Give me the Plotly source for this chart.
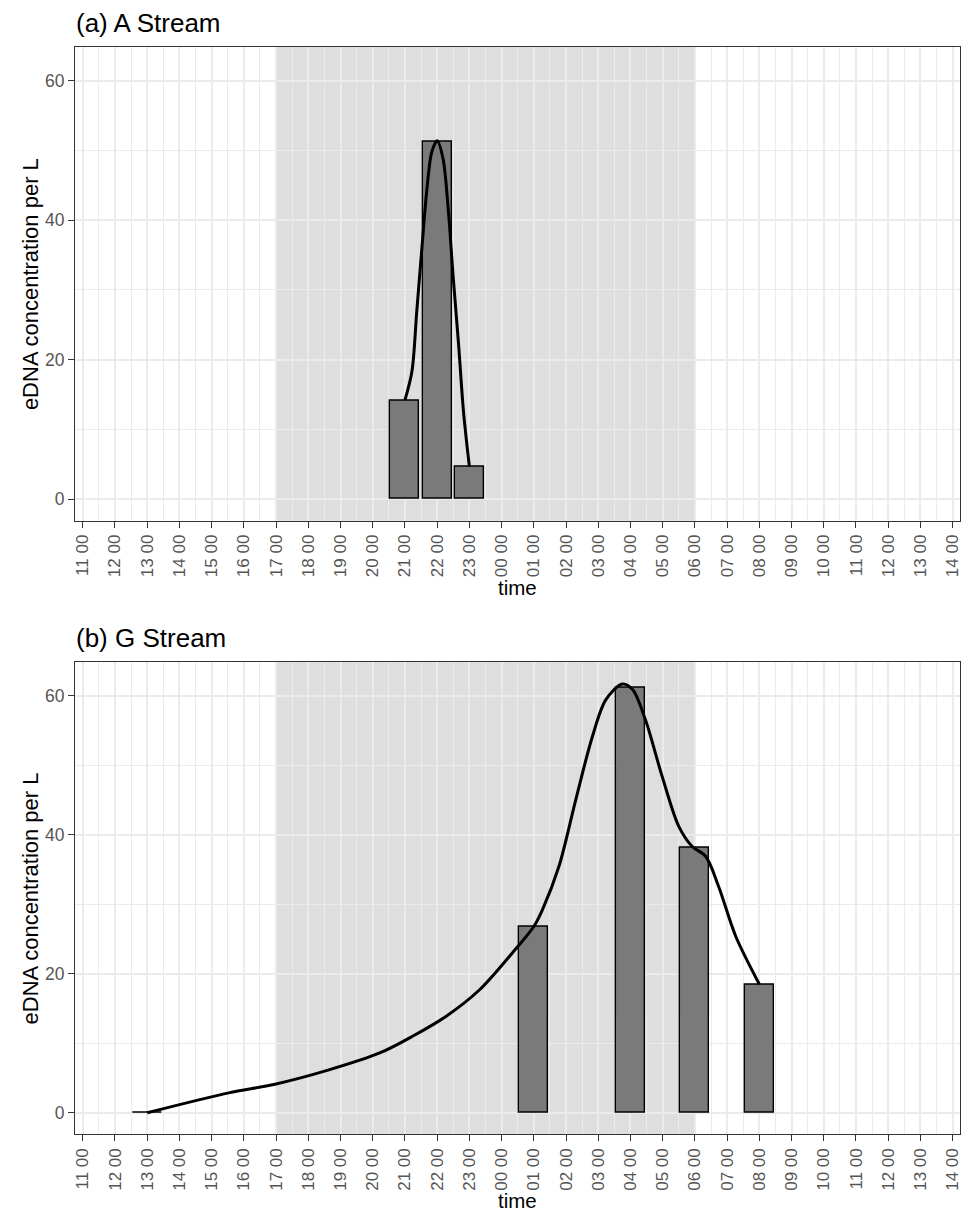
import plotly.graph_objects as go

# ---------------- data ----------------
day1 = "2000-01-01"
day2 = "2000-01-02"

# (a) A Stream - bars
a_bar_times = [f"{day1} 21:00", f"{day1} 22:00", f"{day1} 23:00"]
a_bar_values = [14.1, 51.3, 4.7]

# (a) A Stream - smooth curve
a_curve_times = [f"{day1} 21:00", f"{day1} 21:13", f"{day1} 21:22", f"{day1} 21:32",
                 f"{day1} 21:41", f"{day1} 21:50", f"{day1} 22:00", f"{day1} 22:11",
                 f"{day1} 22:21", f"{day1} 22:30", f"{day1} 22:40", f"{day1} 22:49",
                 f"{day1} 23:00"]
a_curve_values = [14.2, 18.3, 26.9, 36.4, 44.5, 49.8, 51.4, 48.8, 41.2, 31.7, 22.1, 12.6, 4.7]

# (b) G Stream - bars
b_bar_times = [f"{day1} 13:00", f"{day2} 01:00", f"{day2} 04:00", f"{day2} 06:00", f"{day2} 08:00"]
b_bar_values = [0.0, 26.8, 61.2, 38.2, 18.4]

# (b) G Stream - smooth curve
b_curve_times = [f"{day1} 13:00", f"{day1} 15:34", f"{day1} 16:58", f"{day1} 18:40",
                 f"{day1} 20:13", f"{day1} 21:14", f"{day1} 22:17", f"{day1} 23:19",
                 f"{day2} 00:20", f"{day2} 01:00", f"{day2} 01:16", f"{day2} 01:47",
                 f"{day2} 02:18", f"{day2} 02:49", f"{day2} 03:14", f"{day2} 03:45",
                 f"{day2} 04:04", f"{day2} 04:28", f"{day2} 04:59", f"{day2} 05:30",
                 f"{day2} 05:55", f"{day2} 06:20", f"{day2} 06:44", f"{day2} 07:16",
                 f"{day2} 08:00"]
b_curve_values = [0.0, 2.9, 4.1, 6.2, 8.6, 11.0, 13.9, 17.7, 23.0, 26.8, 29.2, 35.5,
                  45.0, 54.1, 59.4, 61.7, 60.9, 56.5, 48.4, 41.2, 38.3, 36.9, 32.6,
                  25.4, 18.5]

# night band
night_start = f"{day1} 17:00"
night_end = f"{day2} 06:00"

panel_titles = ["(a) A Stream", "(b) G Stream"]
x_title = "time"
y_title = "eDNA concentration per L"

# ---------------- style ----------------
OFF = 8  # default page body margin
W, H = 980 - OFF, 1213 - OFF
FONT = "Liberation Sans, Arial, Helvetica, sans-serif"
BAR_FILL = "#7A7A7A"
BAND = "#DEDEDE"
GRID = "#EBEBEB"
BORDER = "#333333"
TICKTXT = "#555555"
HOUR_MS = 3600000

x_left, x_right = 73.3 - OFF, 962.3 - OFF
panels_px = [(46.7 - OFF, 520.7 - OFF), (661.7 - OFF, 1134.3 - OFF)]

def py(v):
    return 1 - v / H

fig = go.Figure()

datasets = [
    (a_bar_times, a_bar_values, a_curve_times, a_curve_values),
    (b_bar_times, b_bar_values, b_curve_times, b_curve_values),
]

for i, (bt, bv, ct, cv) in enumerate(datasets):
    xa = "x" if i == 0 else "x2"
    ya = "y" if i == 0 else "y2"
    fig.add_trace(go.Bar(
        x=bt, y=bv, xaxis=xa, yaxis=ya,
        width=0.9 * HOUR_MS,
        marker=dict(color=BAR_FILL, line=dict(color="black", width=1.4)),
        showlegend=False, hoverinfo="skip"))
    fig.add_trace(go.Scatter(
        x=ct, y=cv, xaxis=xa, yaxis=ya, mode="lines",
        line=dict(color="black", width=3, shape="spline", smoothing=0.9),
        showlegend=False, hoverinfo="skip"))

xrange = [f"{day1} 10:45:36", f"{day2} 14:14:24"]

axis_common_x = dict(
    type="date", range=xrange, tick0=f"{day1} 11:00", dtick=HOUR_MS,
    tickformat="%H %M", tickangle=-90,
    tickfont=dict(family=FONT, size=17, color=TICKTXT),
    ticks="outside", ticklen=6, tickwidth=1.3, tickcolor=BORDER,
    showline=True, linecolor=BORDER, linewidth=1.3, mirror=True,
    showgrid=True, gridcolor=GRID, gridwidth=1.6,
    minor=dict(dtick=HOUR_MS / 2, tick0=f"{day1} 11:00", showgrid=True,
               gridcolor=GRID, gridwidth=0.9, ticks=""),
    zeroline=False, fixedrange=True,
    domain=[x_left / W, x_right / W],
)
axis_common_y = dict(
    range=[-3.1, 64.9], tick0=0, dtick=20,
    tickfont=dict(family=FONT, size=17.5, color=TICKTXT),
    ticks="outside", ticklen=6, tickwidth=1.3, tickcolor=BORDER,
    showline=True, linecolor=BORDER, linewidth=1.3, mirror=True,
    showgrid=True, gridcolor=GRID, gridwidth=1.6,
    minor=dict(dtick=10, showgrid=True, gridcolor=GRID, gridwidth=0.9, ticks=""),
    zeroline=False, fixedrange=True,
)

layout = dict(
    width=W, height=H,
    margin=dict(l=0, r=0, t=0, b=0),
    paper_bgcolor="white", plot_bgcolor="white",
    bargap=0, barmode="overlay",
    font=dict(family=FONT, color="black"),
)
layout["xaxis"] = dict(axis_common_x, anchor="y")
layout["xaxis2"] = dict(axis_common_x, anchor="y2")
layout["yaxis"] = dict(axis_common_y, anchor="x",
                       domain=[py(panels_px[0][1]), py(panels_px[0][0])])
layout["yaxis2"] = dict(axis_common_y, anchor="x2",
                        domain=[py(panels_px[1][1]), py(panels_px[1][0])])
fig.update_layout(**layout)

annotations = []
shapes = []
for i, (top, bot) in enumerate(panels_px):
    xa = "x" if i == 0 else "x2"
    ya = "y" if i == 0 else "y2"
    shapes.append(dict(type="rect", xref=xa, yref=f"{ya} domain",
                       x0=night_start, x1=night_end, y0=0, y1=1,
                       fillcolor=BAND, line=dict(width=0), layer="below"))
    annotations.append(dict(text=panel_titles[i], xref="paper", yref="paper",
                            x=(x_left - 1) / W, y=py(top - 24), xanchor="left", yanchor="middle",
                            showarrow=False, font=dict(family=FONT, size=26, color="black")))
    annotations.append(dict(text=y_title, xref="paper", yref="paper",
                            x=(28.5 - OFF) / W, y=py((top + bot) / 2), xanchor="center",
                            yanchor="middle", textangle=-90, showarrow=False,
                            font=dict(family=FONT, size=22, color="black")))
    if i == 0:
        annotations.append(dict(text=x_title, xref="paper", yref="paper",
                                x=(x_left + x_right) / 2 / W, y=py(bot + 67),
                                xanchor="center", yanchor="middle", showarrow=False,
                                font=dict(family=FONT, size=20.5, color="black")))
    else:
        annotations.append(dict(text=x_title, xref="paper", yref="paper",
                                x=(x_left + x_right) / 2 / W, y=0,
                                xanchor="center", yanchor="bottom", showarrow=False,
                                borderpad=0,
                                font=dict(family=FONT, size=20.5, color="black")))

fig.update_layout(shapes=shapes, annotations=annotations)

fig.write_html("out.html")
